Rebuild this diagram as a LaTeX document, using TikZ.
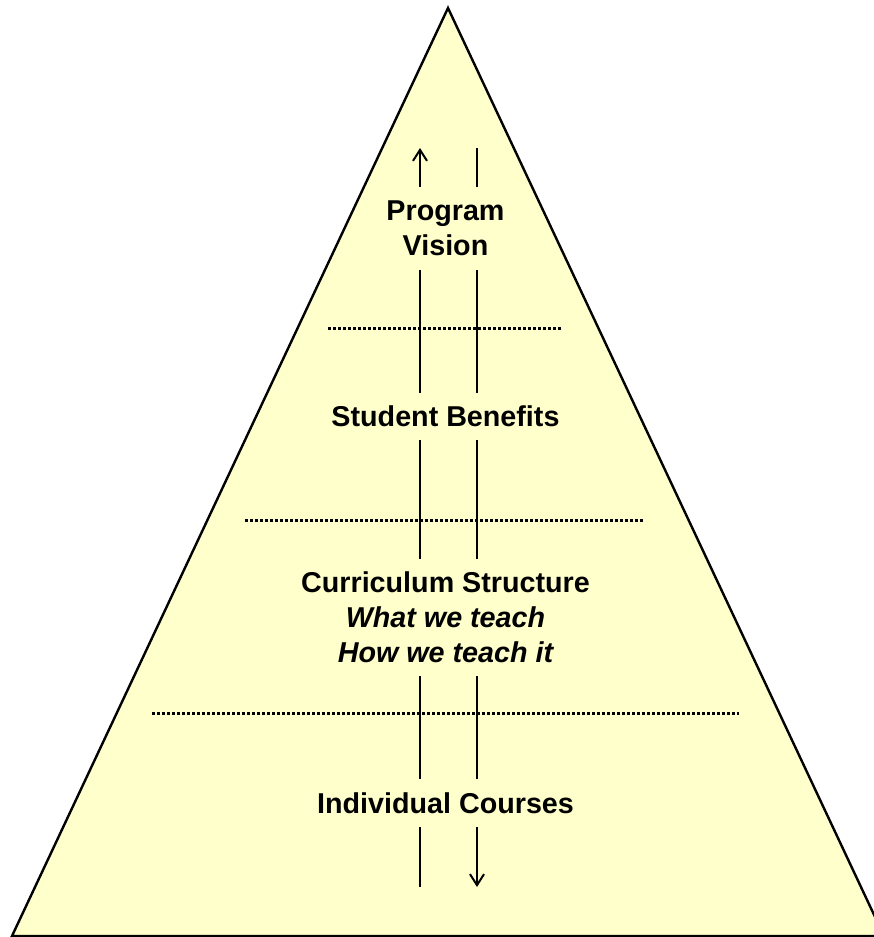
\documentclass[tikz,border=0pt]{standalone}
\usepackage{fontspec}
\setmainfont{Liberation Sans}
\usetikzlibrary{arrows.meta}
\definecolor{pyrfill}{HTML}{FFFFCC}
\tikzset{
  lbl/.style={font=\fontsize{28.7}{35}\selectfont\bfseries, align=center, inner sep=0pt},
  flow/.style={line width=2pt, black},
  flowarrow/.style={flow, -{Straight Barb[length=11pt,width=14pt,line width=2pt]}},
  divider/.style={line width=3pt, dash pattern=on 2.6pt off 2.4pt},
  pyramid/.style={fill=pyrfill, draw=black, line width=2.4pt, line join=miter}
}
\begin{document}
\begin{tikzpicture}[x=1pt,y=-1pt]
\useasboundingbox (0,0) rectangle (874,937);
\path[pyramid] (448,8) -- (884,936) -- (12,936) -- cycle;

\node[lbl, minimum height=83pt] (pv) at (445.5,228.5) {Program\\Vision};
\node[lbl, minimum height=47pt] (sb) at (445.5,416.5) {Student Benefits};
\node[lbl, minimum height=117pt] (cs) at (445.5,617.5) {Curriculum Structure\\\itshape What we teach\\\itshape How we teach it};
\node[lbl, minimum height=48pt] (ic) at (445.5,803) {Individual Courses};

\coordinate (tL) at (420,148);
\coordinate (tR) at (477,148);
\coordinate (bL) at (420,887);
\coordinate (bR) at (477,887);

\coordinate (d1a) at (328,328); \coordinate (d1b) at (562,328);
\coordinate (d2a) at (245,520); \coordinate (d2b) at (644,520);
\coordinate (d3a) at (152,713); \coordinate (d3b) at (739,713);
\draw[divider] (d1a) -- (d1b);
\draw[divider] (d2a) -- (d2b);
\draw[divider] (d3a) -- (d3b);

\draw[flowarrow] (pv.north -| tL) -- (tL);
\draw[flow] (pv.south -| tL) -- (sb.north -| tL);
\draw[flow] (sb.south -| tL) -- (cs.north -| tL);
\draw[flow] (cs.south -| tL) -- (ic.north -| tL);
\draw[flow] (ic.south -| bL) -- (bL);

\draw[flow] (tR) -- (pv.north -| tR);
\draw[flow] (pv.south -| tR) -- (sb.north -| tR);
\draw[flow] (sb.south -| tR) -- (cs.north -| tR);
\draw[flow] (cs.south -| tR) -- (ic.north -| tR);
\draw[flowarrow] (ic.south -| bR) -- (bR);
\end{tikzpicture}
\end{document}
